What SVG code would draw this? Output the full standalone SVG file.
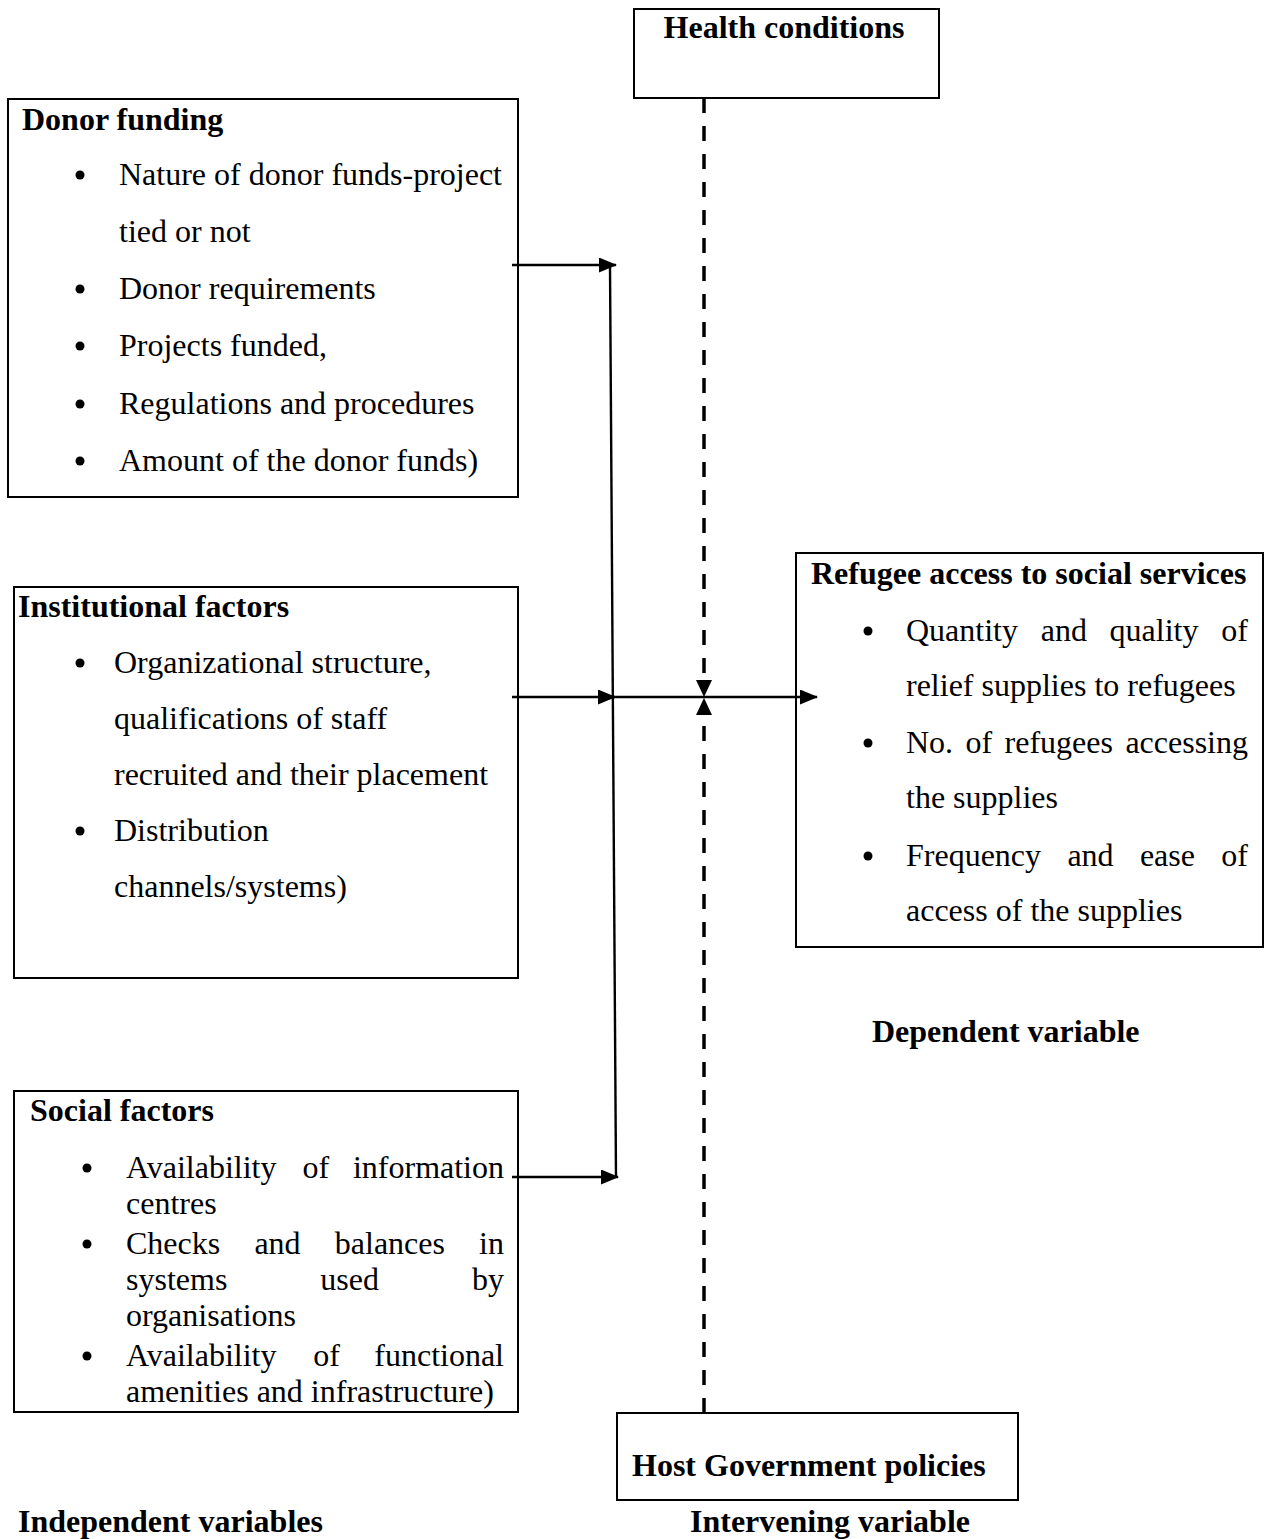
<svg xmlns="http://www.w3.org/2000/svg" width="1265" height="1539" viewBox="0 0 1265 1539">
<style>
text{font-family:"Liberation Serif","Times New Roman",serif;font-size:32px;fill:#000}
.b{font-weight:bold}
.box{fill:#fff;stroke:#000;stroke-width:2}
.ln{stroke:#000;stroke-width:2.4;fill:none}
.dash{stroke:#000;stroke-width:3.5;fill:none;stroke-dasharray:15 13}
.dot{fill:#000}
</style>
<defs>
<marker id="ah" viewBox="0 0 18 15" refX="17" refY="7.5" markerWidth="18" markerHeight="15" markerUnits="userSpaceOnUse" orient="auto">
<path d="M0,0 L18,7.5 L0,15 z" fill="#000"/>
</marker>
</defs>
<rect width="1265" height="1539" fill="#fff"/>

<g id="health">
<rect class="box" x="634" y="9" width="305" height="89"/>
<text class="b" x="784" y="38" text-anchor="middle">Health conditions</text>
</g>

<g id="donor">
<rect class="box" x="8" y="99" width="510" height="398"/>
<text class="b" x="22" y="130">Donor funding</text>
<circle class="dot" cx="80" cy="175" r="4.5"/>
<text x="119" y="185">Nature of donor funds-project</text>
<text x="119" y="242">tied or not</text>
<circle class="dot" cx="80" cy="289" r="4.5"/>
<text x="119" y="299">Donor requirements</text>
<circle class="dot" cx="80" cy="346" r="4.5"/>
<text x="119" y="356">Projects funded,</text>
<circle class="dot" cx="80" cy="404" r="4.5"/>
<text x="119" y="414">Regulations and procedures</text>
<circle class="dot" cx="80" cy="461" r="4.5"/>
<text x="119" y="471">Amount of the donor funds)</text>
</g>

<g id="institutional">
<rect class="box" x="14" y="587" width="504" height="391"/>
<text class="b" x="18" y="617">Institutional factors</text>
<circle class="dot" cx="80" cy="663" r="4.5"/>
<text x="114" y="673">Organizational structure,</text>
<text x="114" y="729">qualifications of staff</text>
<text x="114" y="785">recruited and their placement</text>
<circle class="dot" cx="80" cy="831" r="4.5"/>
<text x="114" y="841">Distribution</text>
<text x="114" y="897">channels/systems)</text>
</g>

<g id="social">
<rect class="box" x="14" y="1091" width="504" height="321"/>
<text class="b" x="30" y="1121">Social factors</text>
<circle class="dot" cx="87" cy="1168" r="4.5"/>
<text x="126" y="1178">Availability</text>
<text x="302.5" y="1178">of</text>
<text x="504" y="1178" text-anchor="end">information</text>
<text x="126" y="1214">centres</text>
<circle class="dot" cx="87" cy="1244" r="4.5"/>
<text x="126" y="1254">Checks</text>
<text x="254.4" y="1254">and</text>
<text x="334.8" y="1254">balances</text>
<text x="504" y="1254" text-anchor="end">in</text>
<text x="126" y="1290">systems</text>
<text x="320.3" y="1290">used</text>
<text x="504" y="1290" text-anchor="end">by</text>
<text x="126" y="1326">organisations</text>
<circle class="dot" cx="87" cy="1356" r="4.5"/>
<text x="126" y="1366">Availability</text>
<text x="313.2" y="1366">of</text>
<text x="504" y="1366" text-anchor="end">functional</text>
<text x="126" y="1402">amenities and infrastructure)</text>
</g>

<g id="refugee">
<rect class="box" x="796" y="553" width="467" height="394"/>
<text class="b" x="811" y="584">Refugee access to social services</text>
<circle class="dot" cx="868" cy="631" r="4.5"/>
<text x="906" y="641">Quantity</text>
<text x="1040.7" y="641">and</text>
<text x="1109.6" y="641">quality</text>
<text x="1248" y="641" text-anchor="end">of</text>
<text x="906" y="696">relief supplies to refugees</text>
<circle class="dot" cx="868" cy="743" r="4.5"/>
<text x="906" y="753">No.</text>
<text x="965.5" y="753">of</text>
<text x="1004.6" y="753">refugees</text>
<text x="1248" y="753" text-anchor="end">accessing</text>
<text x="906" y="808">the supplies</text>
<circle class="dot" cx="868" cy="856" r="4.5"/>
<text x="906" y="866">Frequency</text>
<text x="1067.4" y="866">and</text>
<text x="1139.9" y="866">ease</text>
<text x="1248" y="866" text-anchor="end">of</text>
<text x="906" y="921">access of the supplies</text>
</g>

<g id="host">
<rect class="box" x="617" y="1413" width="401" height="87"/>
<text class="b" x="632" y="1476">Host Government policies</text>
</g>

<g id="labels">
<text class="b" x="872" y="1042">Dependent variable</text>
<text class="b" x="18" y="1532">Independent variables</text>
<text class="b" x="690" y="1532">Intervening variable</text>
</g>

<g id="connectors">
<line class="ln" x1="512" y1="265" x2="616" y2="265" marker-end="url(#ah)"/>
<line class="ln" x1="512" y1="697" x2="615" y2="697" marker-end="url(#ah)"/>
<line class="ln" x1="512" y1="1177" x2="618" y2="1177" marker-end="url(#ah)"/>
<line class="ln" x1="610" y1="265" x2="616" y2="1177"/>
<line class="ln" x1="613" y1="697" x2="817" y2="697" marker-end="url(#ah)"/>
<line class="dash" x1="704" y1="98" x2="704" y2="682"/>
<path d="M696,680 L712,680 L704,697 z" fill="#000"/>
<line class="dash" x1="704" y1="1413" x2="704" y2="714"/>
<path d="M696,715 L712,715 L704,698 z" fill="#000"/>
</g>
</svg>
